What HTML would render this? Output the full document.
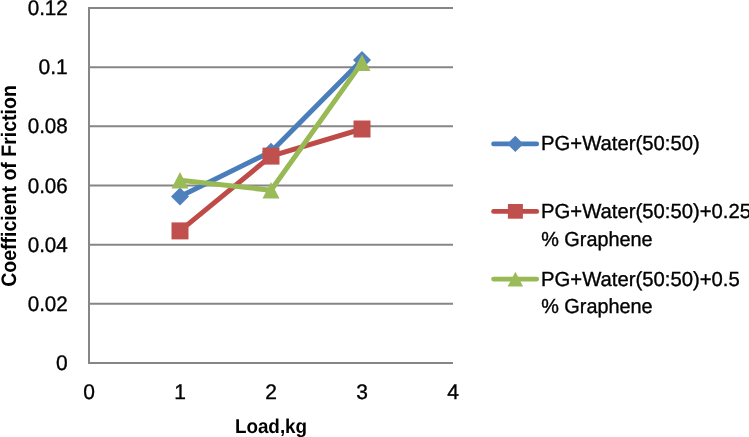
<!DOCTYPE html>
<html><head><meta charset="utf-8">
<style>
html,body{margin:0;padding:0;background:#fff;width:749px;height:437px;overflow:hidden}
svg{display:block}
text{font-family:"Liberation Sans",sans-serif;fill:#000}
svg{text-rendering:geometricPrecision;will-change:transform}
.r{stroke:#000;stroke-width:0.35px}
</style></head><body>
<svg width="749" height="437" viewBox="0 0 749 437">
<rect width="749" height="437" fill="#fff"/>
<g stroke="#868686" stroke-width="2" fill="none">
<line x1="89" y1="8" x2="453" y2="8"/>
<line x1="89" y1="67.17" x2="453" y2="67.17"/>
<line x1="89" y1="126.33" x2="453" y2="126.33"/>
<line x1="89" y1="185.5" x2="453" y2="185.5"/>
<line x1="89" y1="244.67" x2="453" y2="244.67"/>
<line x1="89" y1="303.83" x2="453" y2="303.83"/>
<line x1="88" y1="363" x2="453" y2="363"/>
<line x1="89" y1="7" x2="89" y2="364"/>
</g>
<!-- y labels -->
<g class="r" font-size="21" text-anchor="end">
<text x="67.8" y="14.8" textLength="40.1" lengthAdjust="spacingAndGlyphs">0.12</text>
<text x="67.8" y="74.2">0.1</text>
<text x="67.8" y="133.3" textLength="40.1" lengthAdjust="spacingAndGlyphs">0.08</text>
<text x="67.8" y="192.5" textLength="40.1" lengthAdjust="spacingAndGlyphs">0.06</text>
<text x="67.8" y="251.7" textLength="40.1" lengthAdjust="spacingAndGlyphs">0.04</text>
<text x="67.8" y="310.8" textLength="40.1" lengthAdjust="spacingAndGlyphs">0.02</text>
<text x="67.8" y="370">0</text>
</g>
<!-- x labels -->
<g class="r" font-size="21" text-anchor="middle">
<text x="89" y="399">0</text>
<text x="180" y="399">1</text>
<text x="271" y="399">2</text>
<text x="362" y="399">3</text>
<text x="453" y="399">4</text>
</g>
<!-- axis titles -->
<text x="271" y="432.7" font-size="20" font-weight="bold" text-anchor="middle" textLength="72.2" lengthAdjust="spacingAndGlyphs">Load,kg</text>
<text transform="translate(16,186) rotate(-90)" font-size="21" font-weight="bold" text-anchor="middle" textLength="201.6" lengthAdjust="spacingAndGlyphs">Coefficient of Friction</text>
<!-- series -->
<g fill="none" stroke-width="5" stroke-linejoin="round" stroke-linecap="round">
<polyline stroke="#4A7EBB" points="180,196.4 271,151.7 362,60"/>
</g>
<g fill="#4F81BD"><path d="M180,187.40 L189.00,196.4 L180,205.40 L171.00,196.4Z"/><path d="M271,142.70 L280.00,151.7 L271,160.70 L262.00,151.7Z"/><path d="M362,51.00 L371.00,60 L362,69.00 L353.00,60Z"/></g>
<polyline fill="none" stroke-width="5" stroke-linejoin="round" stroke-linecap="round" stroke="#BE4B48" points="180,230.9 271,156.1 362,129"/>
<g fill="#C0504D"><rect x="171.5" y="222.4" width="17" height="17"/><rect x="262.5" y="147.6" width="17" height="17"/><rect x="353.5" y="120.5" width="17" height="17"/></g>
<polyline fill="none" stroke-width="5" stroke-linejoin="round" stroke-linecap="round" stroke="#98B954" points="180,180.2 271,190.25 362,62.6"/>
<g fill="#9BBB59"><path d="M180,171.9 L188.5,188.6 L171.5,188.6Z"/><path d="M271,182 L279.5,198.5 L262.5,198.5Z"/><path d="M362,54.2 L370.5,71 L353.5,71Z"/></g>
<!-- legend -->
<g stroke-width="4.6" stroke-linecap="round">
<line x1="493.5" y1="143.9" x2="536.8" y2="143.9" stroke="#4A7EBB"/>
<line x1="493.5" y1="211.4" x2="536.8" y2="211.4" stroke="#BE4B48"/>
<line x1="493.5" y1="279.1" x2="536.8" y2="279.1" stroke="#98B954"/>
</g>
<path fill="#4F81BD" d="M515.3,135.8 L523.4,143.9 L515.3,152 L507.2,143.9Z"/>
<rect fill="#C0504D" x="507.9" y="204" width="15" height="14.7"/>
<path fill="#9BBB59" d="M515.4,271.8 L523.1,286.6 L507.6,286.6Z"/>
<g class="r" font-size="20.3">
<text x="541" y="150.4">PG+Water(50:50)</text>
<text x="541" y="218">PG+Water(50:50)+0.25</text>
<text x="541.2" y="245.5" textLength="111.4" lengthAdjust="spacingAndGlyphs">% Graphene</text>
<text x="541" y="285.5">PG+Water(50:50)+0.5</text>
<text x="541.2" y="313" textLength="111.4" lengthAdjust="spacingAndGlyphs">% Graphene</text>
</g>
</svg>
</body></html>
